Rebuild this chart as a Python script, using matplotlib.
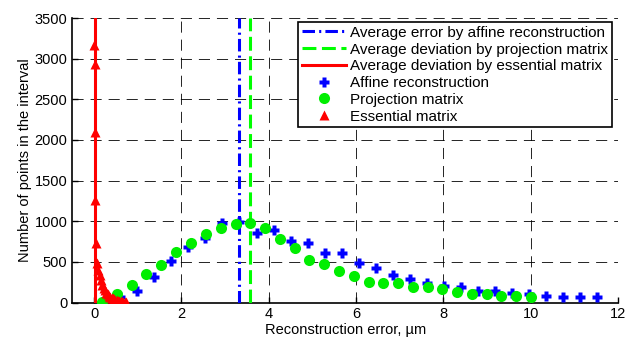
import numpy as np
import matplotlib
matplotlib.use('Agg')
import matplotlib.pyplot as plt
from matplotlib.lines import Line2D

plt.rcParams['font.family'] = ['Liberation Sans', 'DejaVu Sans']
plt.rcParams['lines.scale_dashes'] = False

# histogram counts per error interval
affine_x = [0.60, 0.99, 1.38, 1.77, 2.16, 2.55, 2.94, 3.33, 3.72, 4.11, 4.50, 4.89, 5.28, 5.67,
            6.06, 6.45, 6.84, 7.23, 7.62, 8.01, 8.40, 8.79, 9.18, 9.57, 9.96, 10.35, 10.74,
            11.13, 11.52]
affine_y = [70, 144, 320, 512, 688, 791, 976, 995, 862, 893, 754, 730, 607, 607,
            492, 423, 340, 288, 246, 205, 189, 144, 144, 123, 103, 86, 66,
            66, 66]

proj_x = [0.19, 0.53, 0.86, 1.20, 1.54, 1.88, 2.22, 2.56, 2.90, 3.24, 3.58, 3.92, 4.25, 4.60,
          4.92, 5.26, 5.60, 5.95, 6.29, 6.62, 6.96, 7.30, 7.64, 7.97, 8.32, 8.65, 8.99,
          9.33, 9.67, 10.01]
proj_y = [12, 107, 218, 353, 463, 619, 730, 844, 922, 963, 983, 922, 781, 668,
          520, 472, 390, 328, 258, 238, 238, 197, 189, 168, 128, 103, 103,
          86, 86, 66]

ess_x = [0.00, 0.01, 0.02, 0.03, 0.05, 0.07, 0.10, 0.13, 0.16, 0.19, 0.22, 0.25, 0.28,
         0.31, 0.34, 0.37, 0.40, 0.43, 0.46, 0.49, 0.52, 0.55, 0.58, 0.61, 0.64, 0.67,
         0.70, 0.73]
ess_y = [3170, 2940, 2100, 1260, 730, 485, 400, 340, 280, 220, 180, 150, 120,
         100, 85, 72, 62, 52, 44, 36, 30, 24, 19, 14, 10, 7,
         4, 2]

# mean errors
mean_affine = 3.33
mean_proj = 3.57
mean_ess = 0.02

blue, green, red = '#0000ff', '#00ee00', '#ff0000'
dashdot = (0, (9, 3, 1.5, 3))
dashed = (0, (10, 4))

fig = plt.figure(figsize=(6.31, 3.40), dpi=100)
ax = fig.add_axes([0.1145, 0.11, 0.865, 0.837])

ax.axvline(mean_affine, color=blue, lw=2.2, linestyle=dashdot, zorder=3)
ax.axvline(mean_proj, color='#00ff00', lw=2.2, linestyle=dashed, zorder=3)
ax.axvline(mean_ess, color=red, lw=2.2, zorder=3)

ax.plot(affine_x, affine_y, 'P', color=blue, ms=7.5, mec='none', zorder=4)
ax.plot(proj_x, proj_y, 'o', color=green, ms=8, mec='none', zorder=4)
ax.plot(ess_x, ess_y, '^', color=red, ms=7.5, mec='none', zorder=5)

ax.set_xlim(-0.5, 12)
ax.set_ylim(0, 3500)
ax.set_xticks(np.arange(0, 13, 2))
ax.set_yticks(np.arange(0, 3501, 500))
ax.grid(True, color='k', lw=0.6, dashes=(8, 5))
ax.set_axisbelow(True)
for s in ['top', 'right']:
    ax.spines[s].set_visible(False)
for s in ['left', 'bottom']:
    ax.spines[s].set_linewidth(1.2)
ax.tick_params(direction='in', length=4, width=1, labelsize=10.5)

ax.set_xlabel('Reconstruction error, µm', fontsize=10.5, labelpad=1)
ax.set_ylabel('Number of points in the interval', fontsize=10.5, labelpad=2)

handles = [
    Line2D([], [], color=blue, lw=2.2, linestyle=dashdot),
    Line2D([], [], color='#00ff00', lw=2.2, linestyle=dashed),
    Line2D([], [], color=red, lw=2.2),
    Line2D([], [], marker='P', color=blue, ms=7.5, mec='none', ls='none'),
    Line2D([], [], marker='o', color=green, ms=8, mec='none', ls='none'),
    Line2D([], [], marker='^', color=red, ms=7.5, mec='none', ls='none'),
]
labels = ['Average error by affine reconstruction',
          'Average deviation by projection matrix',
          'Average deviation by essential matrix',
          'Affine reconstruction', 'Projection matrix', 'Essential matrix']
leg = ax.legend(handles, labels, loc='upper right', bbox_to_anchor=(0.989, 0.986),
                fontsize=11, fancybox=False, framealpha=1, edgecolor='k',
                handlelength=2.9, handletextpad=0.25, labelspacing=0.18,
                borderpad=0.25, borderaxespad=0)
leg.get_frame().set_linewidth(1.2)

fig.savefig('out.png', dpi=100)
